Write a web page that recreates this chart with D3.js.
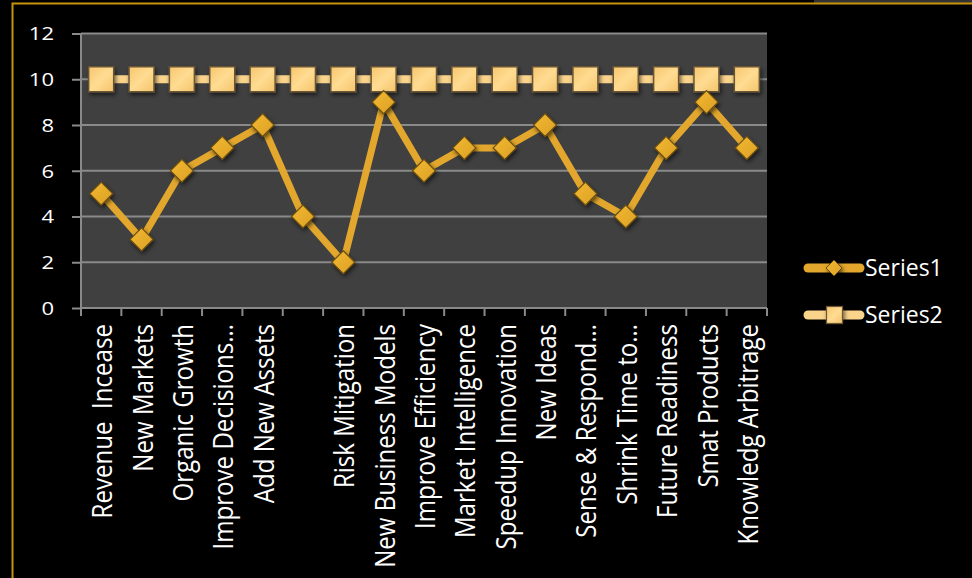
<!DOCTYPE html>
<html><head><meta charset="utf-8">
<script src="https://cdn.jsdelivr.net/npm/d3@7"></script>
<style>
html,body{margin:0;padding:0;background:#000;}
svg{display:block;}
text{font-family:"Open Sans",sans-serif;fill:#fff;}
</style></head><body>
<svg id="c" width="972" height="578"></svg>
<script>
const categories = ["Revenue  Incease","New Markets","Organic Growth","Improve Decisions…","Add New Assets","","Risk Mitigation","New Business Models","Improve Efficiency","Market Intelligence","Speedup Innovation","New Ideas","Sense & Respond…","Shrink Time to…","Future Readiness","Smat Products","Knowledg Arbitrage"];
const series1 = [5,3,6,7,8,4,2,9,6,7,7,8,5,4,7,9,7];
const series2 = [10,10,10,10,10,10,10,10,10,10,10,10,10,10,10,10,10];
const yTicks = [0,2,4,6,8,10,12];
const seriesNames = ["Series1","Series2"];

const svg = d3.select("#c");
const m = {left:81, right:767, top:33.5, bottom:308};

const defs = svg.append("defs");
const sh = defs.append("filter").attr("id","sh").attr("x","-50%").attr("y","-50%").attr("width","200%").attr("height","200%");
sh.append("feDropShadow").attr("dx",1.5).attr("dy",2.5).attr("stdDeviation",2).attr("flood-color","#000").attr("flood-opacity",0.6);
const g1 = defs.append("linearGradient").attr("id","sq").attr("x1","0").attr("y1","0").attr("x2","1").attr("y2","1");
g1.append("stop").attr("offset","0").attr("stop-color","#f6c66f");
g1.append("stop").attr("offset","0.5").attr("stop-color","#ffdc92");
g1.append("stop").attr("offset","1").attr("stop-color","#f4c46c");
const g2 = defs.append("linearGradient").attr("id","dm").attr("x1","0").attr("y1","0").attr("x2","1").attr("y2","1");
g2.append("stop").attr("offset","0").attr("stop-color","#f2b932");
g2.append("stop").attr("offset","1").attr("stop-color","#dca025");

// outer frame
svg.append("rect").attr("x",814).attr("y",0).attr("width",158).attr("height",3).attr("fill","#333");
svg.append("rect").attr("x",12.5).attr("y",3.5).attr("width",970).attr("height",600)
  .attr("fill","none").attr("stroke","#c8930c").attr("stroke-width",2);

const x = d3.scaleBand().domain(d3.range(categories.length)).range([m.left,m.right]).padding(0);
const y = d3.scaleLinear().domain([0,12]).range([m.bottom,m.top]);

svg.append("rect").attr("x",m.left).attr("y",m.top).attr("width",m.right-m.left).attr("height",m.bottom-m.top).attr("fill","#404040");

// gridlines
svg.append("g").selectAll("line").data(yTicks.filter(d=>d>0)).join("line")
  .attr("x1",m.left).attr("x2",m.right).attr("y1",d=>y(d)).attr("y2",d=>y(d))
  .attr("stroke","#8a8a8a").attr("stroke-width",2);

// y axis
const ya = svg.append("g").attr("transform",`translate(${m.left},0)`)
  .call(d3.axisLeft(y).tickValues(yTicks).tickSize(9).tickPadding(27));
ya.select(".domain").attr("stroke","#8a8a8a").attr("stroke-width",2).attr("d",`M0,${m.top}V${m.bottom}`);
ya.selectAll(".tick line").attr("stroke","#8a8a8a").attr("stroke-width",2);
ya.selectAll(".tick text").attr("fill","#fff").style("font-size","22px").style("font-family","'Open Sans',sans-serif")
  .attr("x",null).attr("dy",null).attr("text-anchor","end")
  .attr("transform","translate(-27,0) scale(1,0.8)").attr("dy","0.36em");

// x axis
const xa = svg.append("g").attr("transform",`translate(0,${m.bottom})`);
xa.append("line").attr("x1",m.left).attr("x2",m.right).attr("stroke","#8a8a8a").attr("stroke-width",2);
xa.selectAll("line.t").data(d3.range(categories.length+1)).join("line").attr("class","t")
  .attr("x1",i=>m.left+i*x.bandwidth()).attr("x2",i=>m.left+i*x.bandwidth())
  .attr("y1",0).attr("y2",8).attr("stroke","#8a8a8a").attr("stroke-width",2);
xa.selectAll("text").data(categories).join("text")
  .attr("transform",(d,i)=>`translate(${x(i)+x.bandwidth()/2+1},16) rotate(-90) scale(0.86,1)`)
  .attr("text-anchor","end").attr("dy","0.36em").style("font-size","28px").style("white-space","pre").text(d=>d);

const cx = i => x(i)+x.bandwidth()/2;
const line = d3.line().x((d,i)=>cx(i)).y(d=>y(d));

// series2
svg.append("path").datum(series2).attr("d",line).attr("fill","none").attr("stroke","#fbd48c").attr("stroke-width",8);
svg.append("g").selectAll("rect").data(series2).join("rect")
  .attr("x",(d,i)=>cx(i)-12.5).attr("y",d=>y(d)-12.5).attr("width",25).attr("height",25)
  .attr("fill","url(#sq)").attr("stroke","#6a5636").attr("stroke-width",1.5).attr("filter","url(#sh)");

// series1
svg.append("path").datum(series1).attr("d",line).attr("fill","none").attr("stroke","#e2a72c").attr("stroke-width",7).attr("stroke-linejoin","round");
svg.append("g").selectAll("path").data(series1).join("path")
  .attr("d",(d,i)=>`M${cx(i)},${y(d)-11.5}L${cx(i)+11.5},${y(d)}L${cx(i)},${y(d)+11.5}L${cx(i)-11.5},${y(d)}Z`)
  .attr("fill","url(#dm)").attr("stroke","#6b4e10").attr("stroke-width",1.2).attr("filter","url(#sh)");

// legend
const lg = svg.append("g");
const ly = [268,315];
lg.append("line").attr("x1",808).attr("x2",860).attr("y1",ly[0]).attr("y2",ly[0]).attr("stroke","#e2a72c").attr("stroke-width",9).attr("stroke-linecap","round");
lg.append("path").attr("d",`M834,${ly[0]-8}L842,${ly[0]}L834,${ly[0]+8}L826,${ly[0]}Z`).attr("fill","url(#dm)").attr("stroke","#6b4e10").attr("stroke-width",1).attr("filter","url(#sh)");
lg.append("line").attr("x1",808).attr("x2",860).attr("y1",ly[1]).attr("y2",ly[1]).attr("stroke","#fbd48c").attr("stroke-width",9).attr("stroke-linecap","round");
lg.append("rect").attr("x",826.5).attr("y",ly[1]-8.5).attr("width",16).attr("height",17).attr("fill","url(#sq)").attr("stroke","#6a5636").attr("stroke-width",1.2).attr("filter","url(#sh)");
lg.selectAll("text").data(seriesNames).join("text").attr("x",865).attr("y",(d,i)=>ly[i]).attr("dy","0.35em")
  .style("font-size","23px").text(d=>d);
</script>
</body></html>
